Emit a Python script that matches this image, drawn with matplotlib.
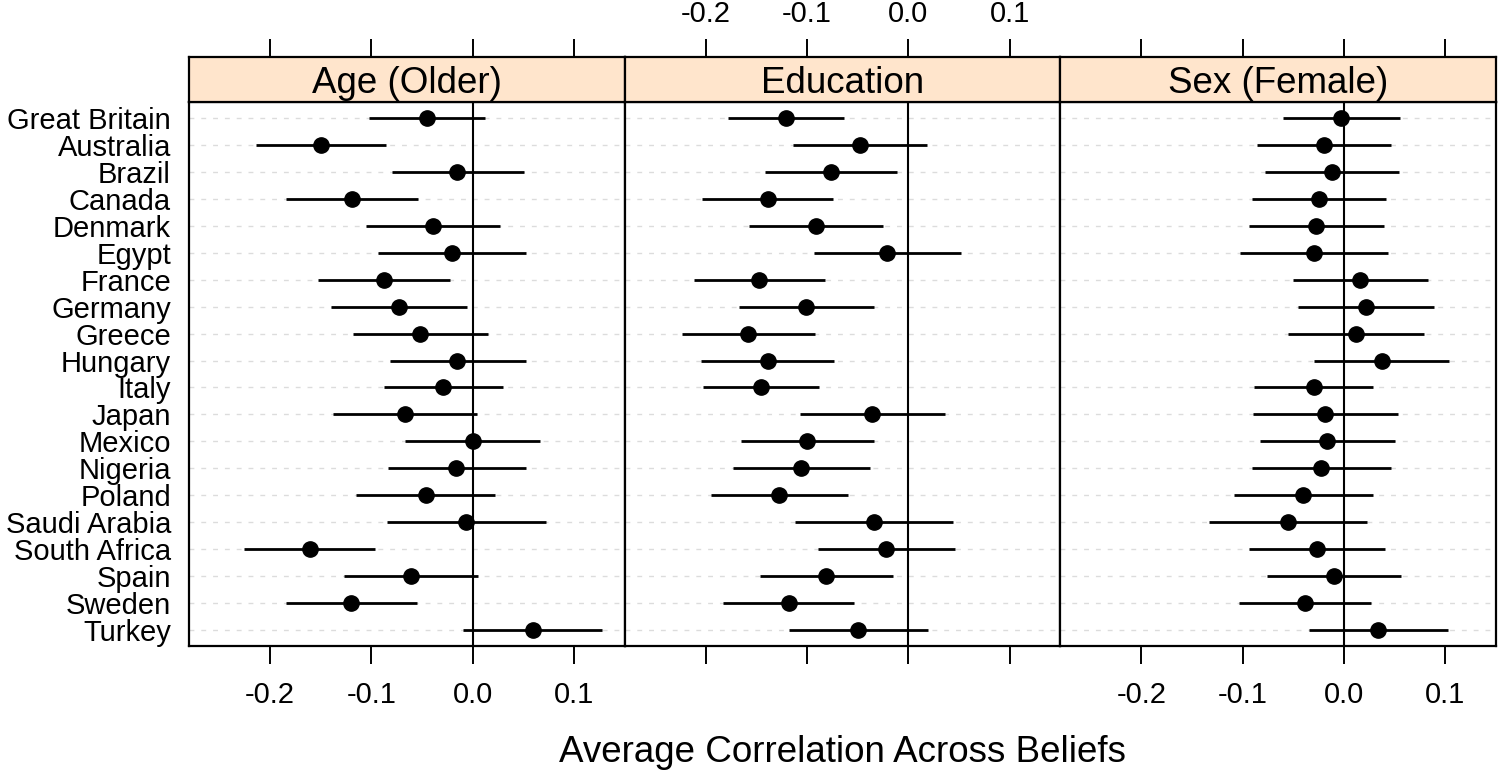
import matplotlib
matplotlib.use("Agg")
import matplotlib.pyplot as plt

plt.rcParams['font.family'] = ['Liberation Sans', 'DejaVu Sans']

countries = ["Great Britain", "Australia", "Brazil", "Canada", "Denmark", "Egypt",
             "France", "Germany", "Greece", "Hungary", "Italy", "Japan", "Mexico",
             "Nigeria", "Poland", "Saudi Arabia", "South Africa", "Spain", "Sweden",
             "Turkey"]

panels = ["Age (Older)", "Education", "Sex (Female)"]

# estimates, lower and upper bounds per panel (same country order)
age_est = [-0.045, -0.150, -0.015, -0.119, -0.039, -0.020, -0.088, -0.073, -0.052, -0.015,
           -0.029, -0.067, 0.000, -0.016, -0.046, -0.007, -0.161, -0.061, -0.120, 0.060]
age_lo = [-0.102, -0.214, -0.080, -0.184, -0.105, -0.093, -0.153, -0.140, -0.118, -0.082,
          -0.088, -0.138, -0.067, -0.084, -0.115, -0.085, -0.226, -0.127, -0.184, -0.010]
age_hi = [0.012, -0.086, 0.051, -0.054, 0.027, 0.053, -0.022, -0.006, 0.015, 0.053,
          0.030, 0.004, 0.066, 0.053, 0.022, 0.072, -0.096, 0.005, -0.055, 0.128]

edu_est = [-0.121, -0.048, -0.076, -0.139, -0.091, -0.021, -0.147, -0.101, -0.158, -0.139,
           -0.145, -0.036, -0.100, -0.106, -0.128, -0.034, -0.022, -0.081, -0.118, -0.050]
edu_lo = [-0.178, -0.114, -0.141, -0.204, -0.157, -0.093, -0.212, -0.167, -0.223, -0.205,
          -0.203, -0.107, -0.165, -0.173, -0.195, -0.112, -0.089, -0.146, -0.183, -0.118]
edu_hi = [-0.064, 0.018, -0.011, -0.074, -0.025, 0.052, -0.082, -0.034, -0.092, -0.073,
          -0.088, 0.036, -0.034, -0.038, -0.060, 0.044, 0.046, -0.015, -0.054, 0.019]

sex_est = [-0.003, -0.020, -0.012, -0.025, -0.028, -0.030, 0.016, 0.022, 0.012, 0.037,
           -0.030, -0.019, -0.017, -0.023, -0.040, -0.055, -0.027, -0.010, -0.039, 0.034]
sex_lo = [-0.060, -0.086, -0.078, -0.091, -0.094, -0.103, -0.050, -0.045, -0.055, -0.030,
          -0.089, -0.090, -0.083, -0.091, -0.109, -0.133, -0.094, -0.076, -0.104, -0.035]
sex_hi = [0.055, 0.046, 0.054, 0.041, 0.039, 0.043, 0.083, 0.089, 0.079, 0.104,
          0.029, 0.053, 0.050, 0.046, 0.029, 0.023, 0.040, 0.056, 0.027, 0.103]

ticks = [-0.2, -0.1, 0.0, 0.1]
tick_labels = ["-0.2", "-0.1", "0.0", "0.1"]

data = [(age_est, age_lo, age_hi), (edu_est, edu_lo, edu_hi), (sex_est, sex_lo, sex_hi)]

W, H = 1498, 776
fig = plt.figure(figsize=(W / 100, H / 100), dpi=100)

left_px, right_px = 189, 1496
top_px, strip_px, bottom_px = 57, 102, 646
pw = (right_px - left_px) / 3
n = len(countries)
ypos = [n - i for i in range(n)]

for k, (title, (est, lo, hi)) in enumerate(zip(panels, data)):
    x0 = (left_px + k * pw) / W
    ax = fig.add_axes([x0, 1 - bottom_px / H, pw / W, (bottom_px - strip_px) / H])
    sx = fig.add_axes([x0, 1 - strip_px / H, pw / W, (strip_px - top_px) / H])

    for y in ypos:
        ax.axhline(y, color="#dcdcdc", lw=1.0, dashes=(3.5, 5), zorder=1)
    ax.axvline(0, color="black", lw=1.5, zorder=2)
    ax.hlines(ypos, lo, hi, color="black", lw=2.0, zorder=3)
    ax.plot(est, ypos, "o", color="black", ms=11, zorder=4)

    ax.set_xlim(-0.28, 0.15)
    ax.set_ylim(0.4, n + 0.6)
    ax.set_xticks(ticks)
    ax.tick_params(axis="x", direction="out", length=13, width=1.4, labelsize=21, pad=12)
    if k == 1:
        ax.set_xticklabels([])
    else:
        ax.set_xticklabels(tick_labels)
    if k == 0:
        ax.set_yticks(ypos)
        ax.set_yticklabels(countries, fontsize=21)
        ax.tick_params(axis="y", length=0, pad=13)
    else:
        ax.set_yticks([])
    for sp in ax.spines.values():
        sp.set_linewidth(1.6)

    sx.set_facecolor("#ffe5cc")
    sx.set_xlim(-0.28, 0.15)
    sx.set_ylim(0, 1)
    sx.set_yticks([])
    sx.set_xticks(ticks)
    sx.xaxis.set_ticks_position("top")
    sx.tick_params(axis="x", direction="out", length=13, width=1.4, labelsize=21, pad=8,
                   labeltop=(k == 1), labelbottom=False, bottom=False)
    sx.set_xticklabels(tick_labels)
    for sp in sx.spines.values():
        sp.set_linewidth(1.6)
    sx.text(0.5, 0.42, title, transform=sx.transAxes, ha="center", va="center", fontsize=26.5)

fig.text((left_px + right_px) / 2 / W, 1 - 753 / H, "Average Correlation Across Beliefs",
         ha="center", va="center", fontsize=26.5)

fig.savefig("out.png", dpi=100)
